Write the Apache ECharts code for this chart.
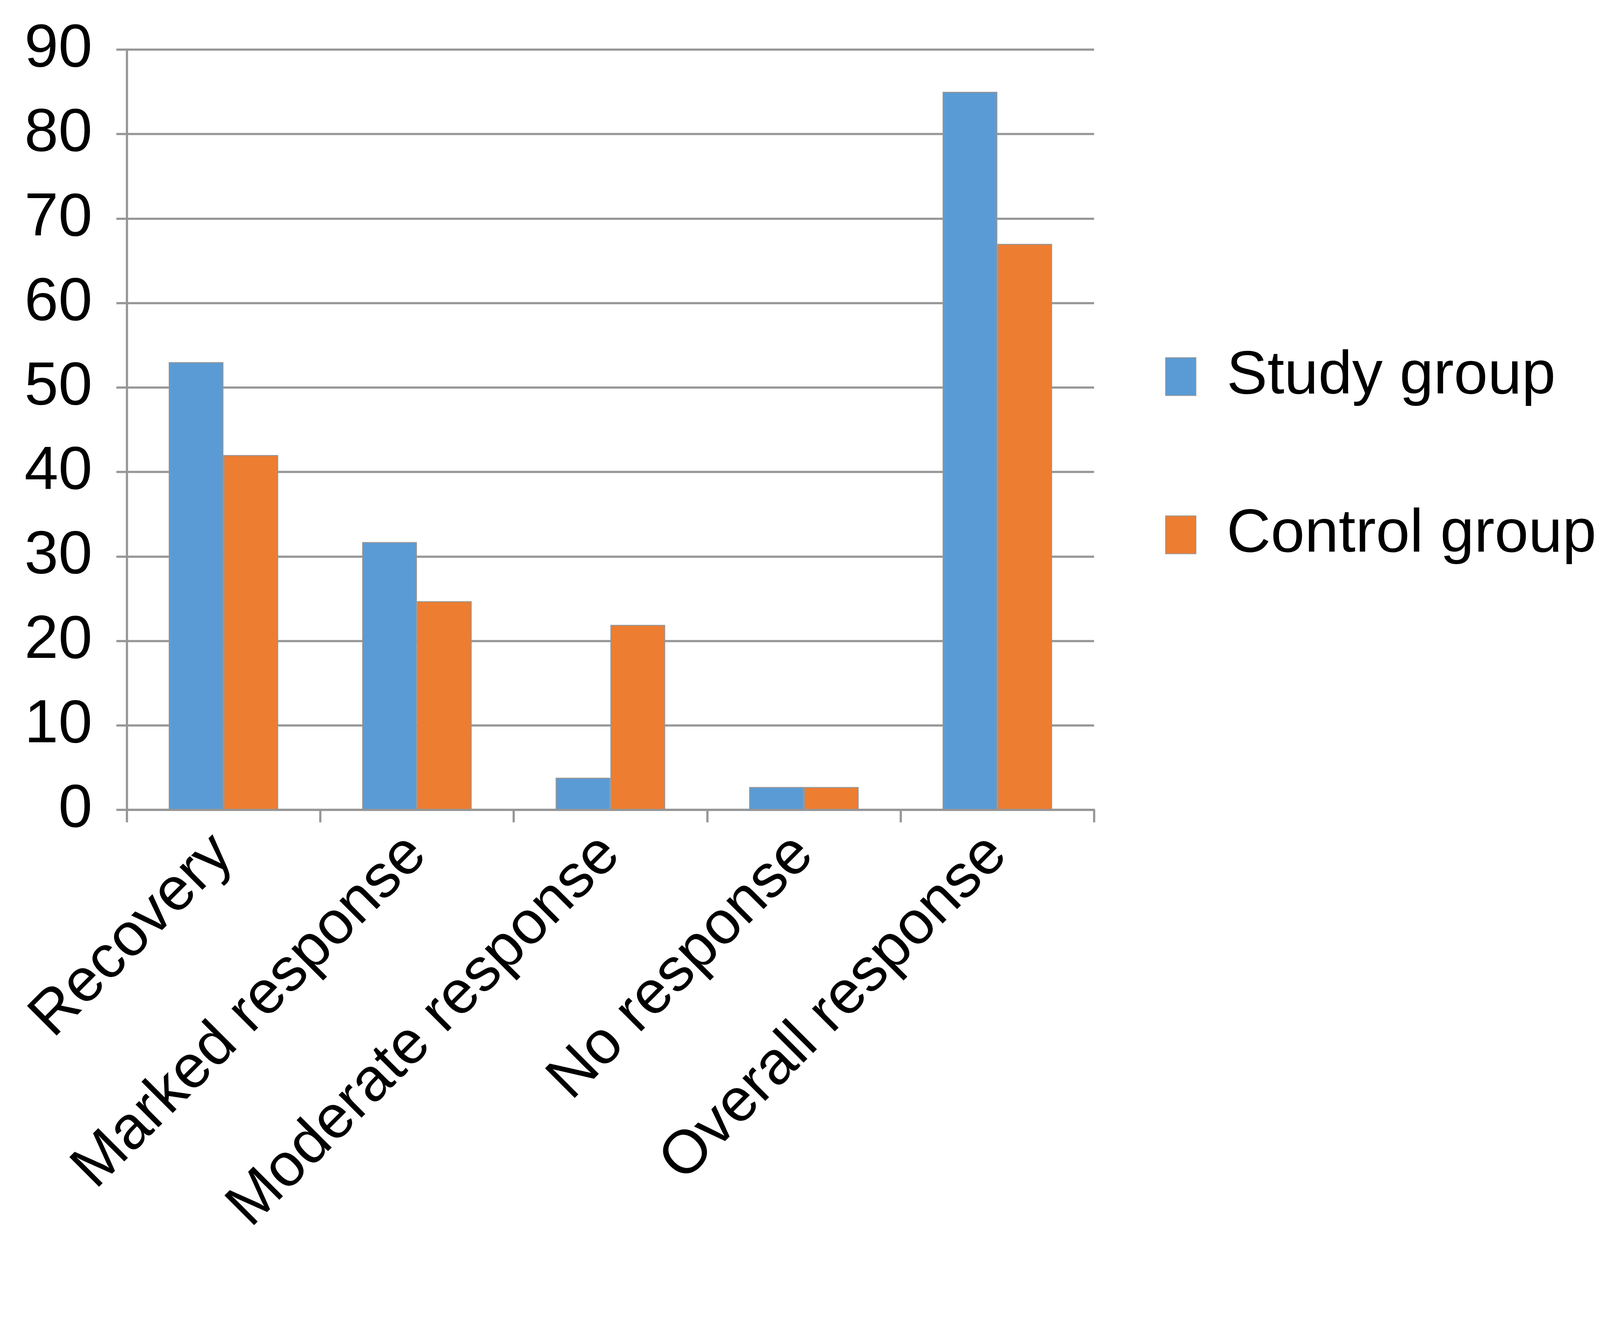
<!DOCTYPE html>
<html>
<head>
<meta charset="utf-8">
<script src="https://cdn.jsdelivr.net/npm/echarts@6/dist/echarts.min.js"></script>
<style>
  html, body { margin: 0; padding: 0; background: #fff; overflow: hidden; }
  #main { width: 100vw; height: 100vh; }
</style>
</head>
<body>
<div id="main"></div>
<script>
// 数据
var categories = ['Recovery', 'Marked response', 'Moderate response', 'No response', 'Overall response'];
var studyGroup = [53, 31.7, 3.8, 2.7, 85];
var controlGroup = [42, 24.7, 21.9, 2.7, 67];
var seriesNames = ['Study group', 'Control group'];

// 按窗口大小缩放 (参考图 5114 x 3407)
var W = window.innerWidth, H = window.innerHeight;
var sx = W / 5114, sy = H / 3407;
var s = Math.min(sx, sy);

var font = 'Liberation Sans, Arial, sans-serif';
var gray = '#969696';
var fs = 195 * s;
var lw = 7 * s;

var myChart = echarts.init(document.getElementById('main'));

var option = {
    animation: false,
    backgroundColor: '#ffffff',
    grid: {
        left: 405 * sx,
        right: 1617 * sx,
        top: 127 * sy,
        bottom: 1334 * sy
    },
    legend: {
        orient: 'vertical',
        left: 3718 * sx,
        top: 881 * sy,
        itemWidth: 97 * sx,
        itemHeight: 97 * sy,
        itemGap: 249 * sy,
        icon: 'rect',
        data: seriesNames,
        textStyle: {
            fontFamily: font,
            fontSize: fs,
            color: '#000',
            lineHeight: 97 * sy,
            padding: [0, 0, 0, 92 * sx]
        }
    },
    xAxis: {
        type: 'category',
        data: categories,
        axisLine: { lineStyle: { color: gray, width: lw } },
        axisTick: { show: true, length: 32 * sy, lineStyle: { color: gray, width: lw } },
        axisLabel: {
            rotate: 45,
            margin: 90 * sy,
            interval: 0,
            fontFamily: font,
            fontSize: fs,
            color: '#000'
        }
    },
    yAxis: {
        type: 'value',
        min: 0,
        max: 90,
        interval: 10,
        axisLine: { show: true, lineStyle: { color: gray, width: lw } },
        axisTick: { show: true, length: 33 * sx, lineStyle: { color: gray, width: lw } },
        splitLine: { lineStyle: { color: gray, width: lw } },
        axisLabel: {
            margin: 110 * sx,
            fontFamily: font,
            fontSize: fs,
            color: '#000'
        }
    },
    series: [
        {
            name: seriesNames[0],
            type: 'bar',
            data: studyGroup,
            barWidth: 175 * sx,
            barGap: '0%',
            itemStyle: { color: '#5B9BD5', borderColor: gray, borderWidth: 3 * sx }
        },
        {
            name: seriesNames[1],
            type: 'bar',
            data: controlGroup,
            barWidth: 175 * sx,
            barGap: '0%',
            itemStyle: { color: '#ED7D31', borderColor: gray, borderWidth: 3 * sx }
        }
    ]
};

myChart.setOption(option);
</script>
</body>
</html>
